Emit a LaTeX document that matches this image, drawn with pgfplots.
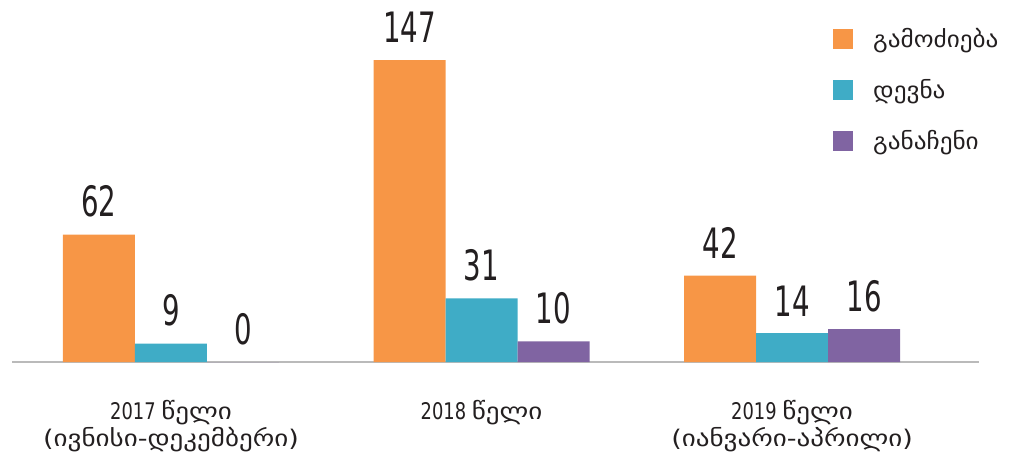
\documentclass[border=0pt]{standalone}
\usepackage{fontspec}
\usepackage{pgfplots}
\pgfplotsset{compat=1.18}
\setmainfont{DejaVu Sans}
\newfontfamily\numfont[FakeStretch=0.66]{DejaVu Sans}
\newfontfamily\catfont[FakeStretch=0.78]{DejaVu Sans}
\newfontfamily\geofont[FakeStretch=1.18]{DejaVu Sans}
\newfontfamily\legfont[FakeStretch=1.1]{DejaVu Sans}
\definecolor{cOr}{HTML}{F79646}
\definecolor{cTe}{HTML}{3FACC6}
\definecolor{cPu}{HTML}{8064A2}
\definecolor{cTx}{HTML}{231F20}
\begin{document}
\begin{tikzpicture}
\begin{axis}[
  at={(12bp,91bp)}, anchor=south west,
  scale only axis, width=967bp, height=328.7bp,
  xmin=-0.512, xmax=2.602, ymin=0, ymax=160,
  ybar=0pt, bar width=72bp,
  axis x line*=bottom, axis y line=none,
  x axis line style={draw=black!27, line width=1.8bp, -},
  xtick={0,1,2},
  xticklabels={{2017 {\geofont წელი}\\{\geofont (ივნისი-დეკემბერი)}},{2018 {\geofont წელი}},{2019 {\geofont წელი}\\{\geofont (იანვარი-აპრილი)}}},
  xticklabel style={align=center, font=\catfont\fontsize{23}{27}\selectfont, text=cTx, yshift=-35bp},
  major tick length=0pt,
  /pgf/number format/assume math mode=true,
  nodes near coords,
  every node near coord/.append style={font=\numfont\fontsize{42}{42}\selectfont, text=cTx, anchor=south, inner sep=0pt, yshift=17bp},
  legend style={at={(0.849,1.016)}, anchor=north west, draw=none, fill=none,
    font=\legfont\fontsize{23}{27}\selectfont, text=cTx, row sep=30.5bp, inner sep=0pt,
    nodes={inner sep=0pt}},
  legend cell align=left,
  clip=false,
]
\addplot[fill=cOr, draw=none, legend image code/.code={\fill[cOr] (0bp,-10bp) rectangle (20bp,10bp); \path (40bp,0bp);}] coordinates {(0,62) (1,147) (2,42)};
\addplot[fill=cTe, draw=none, legend image code/.code={\fill[cTe] (0bp,-10bp) rectangle (20bp,10bp); \path (40bp,0bp);}] coordinates {(0,9) (1,31) (2,14)};
\addplot[fill=cPu, draw=none, legend image code/.code={\fill[cPu] (0bp,-10bp) rectangle (20bp,10bp); \path (40bp,0bp);}] coordinates {(0,0) (1,10) (2,16)};
\legend{გამოძიება, დევნა, განაჩენი}
\end{axis}
\pgfresetboundingbox
\path[use as bounding box] (0,0) rectangle (1015bp,453bp);
\end{tikzpicture}
\end{document}
